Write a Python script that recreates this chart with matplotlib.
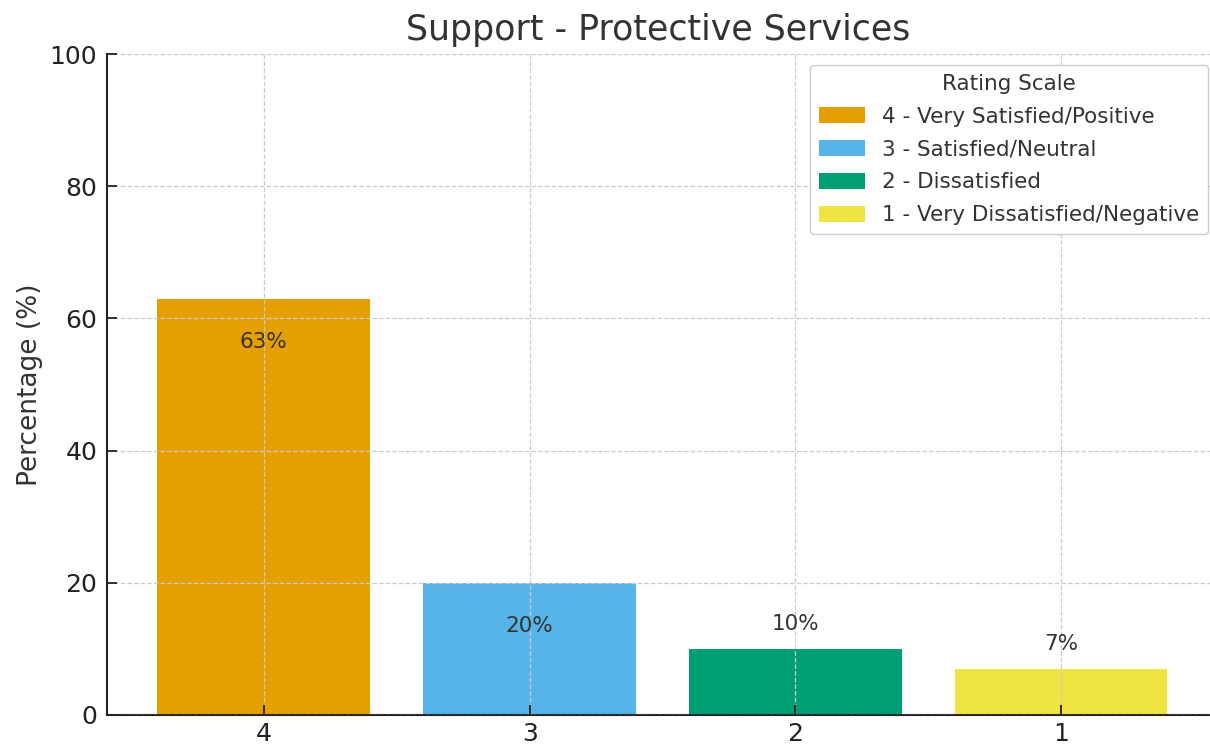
import matplotlib.pyplot as plt
from matplotlib.patches import Patch

# Data
ratings = ["4", "3", "2", "1"]
percentages = [63, 20, 10, 7]
legend_labels = [
    "4 - Very Satisfied/Positive",
    "3 - Satisfied/Neutral",
    "2 - Dissatisfied",
    "1 - Very Dissatisfied/Negative",
]
colors = ["#E69F00", "#56B4E9", "#009E73", "#F0E442"]

plt.rcParams["font.family"] = "DejaVu Sans"
text_color = "#333333"

fig = plt.figure(figsize=(12.1, 7.46), dpi=100)
ax = fig.add_axes([107 / 1210, 1 - 715 / 746, (1210 - 107) / 1210, (715 - 54) / 746])

x = list(range(len(ratings)))
bars = ax.bar(x, percentages, width=0.8, color=colors, zorder=1)

# labels: inside the tall bars, above the short ones
for xi, val in zip(x, percentages):
    if val >= 15:
        y = val - 6.5
    else:
        y = val + 3.8
    ax.text(xi, y, f"{val}%", ha="center", va="center", fontsize=15.5, color=text_color, zorder=4)

ax.set_xticks(x)
ax.set_xticklabels(ratings)
ax.set_xlim(-0.59, 3.56)
ax.set_ylim(0, 100)
ax.set_yticks([0, 20, 40, 60, 80, 100])

ax.grid(True, linestyle="--", color="#cccccc", linewidth=0.9, zorder=3)
ax.set_axisbelow(False)

ax.spines["top"].set_visible(False)
ax.spines["right"].set_visible(False)
for s in ["left", "bottom"]:
    ax.spines[s].set_color("#222222")
    ax.spines[s].set_linewidth(1.5)

ax.tick_params(axis="both", labelsize=18, colors="#222222", direction="in",
               length=7, width=1.3, pad=7)
ax.tick_params(axis="x", pad=5)
ax.set_ylabel("Percentage (%)", fontsize=19, color=text_color, labelpad=5)
ax.set_title("Support - Protective Services", fontsize=25, color=text_color, pad=10)

handles = [Patch(facecolor=c) for c in colors]
leg = ax.legend(handles, legend_labels, title="Rating Scale", loc="upper right",
                fontsize=15.5, title_fontsize=15.5, labelcolor=text_color,
                handlelength=2.14, handleheight=0.8, labelspacing=0.6,
                borderaxespad=0, bbox_to_anchor=(0.9982, 0.9834),
                framealpha=1, edgecolor="#cccccc")
leg.get_title().set_color(text_color)
leg.set_zorder(5)

fig.savefig("out.png", dpi=100)
